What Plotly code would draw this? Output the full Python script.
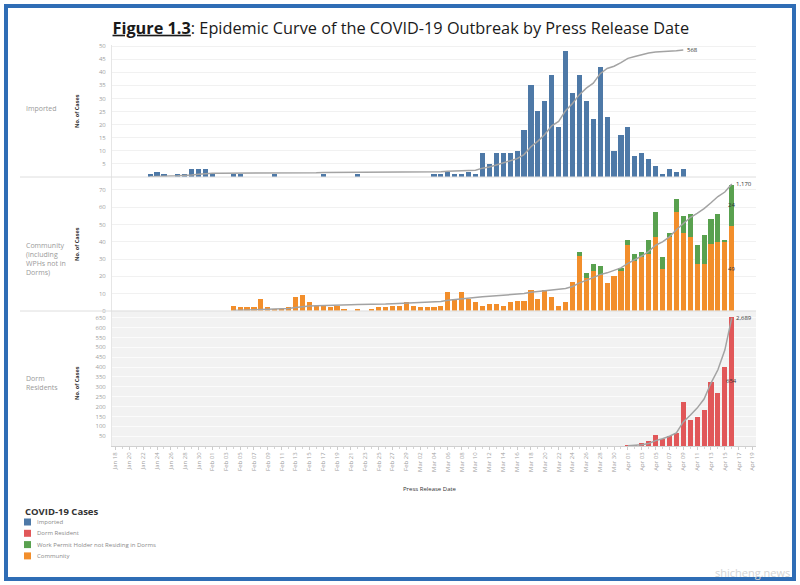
import pandas as pd
import plotly.graph_objects as go
from plotly.subplots import make_subplots

# daily cases by press release date
imported_start = "2020-01-23"
imported = [
    1, 2, 1, 0, 1, 1, 3, 3, 3, 1,
    0, 0, 1, 1, 0, 0, 0, 0, 1, 0,
    0, 0, 0, 0, 0, 1, 0, 0, 0, 0,
    1, 0, 0, 0, 0, 0, 0, 0, 0, 0,
    0, 1, 1, 2, 1, 1, 2, 1, 9, 5,
    9, 9, 9, 10, 18, 35, 25, 29, 39, 19,
    48, 32, 39, 29, 22, 42, 23, 10, 16, 19,
    8, 9, 7, 4, 1, 3, 2, 3,
]

community_start = "2020-02-04"
community = [
    3, 2, 2, 2, 7, 2, 1, 1, 2, 8, 9, 5, 3, 3, 2, 3, 1, 0, 1, 0, 1, 2, 2, 3, 3, 5, 3,
    2, 2, 2, 3, 11, 7, 11, 7, 5, 3, 4, 4, 3, 5, 6, 6, 12, 7, 12, 8, 3, 5, 17,
    32, 19, 23, 21, 16, 20, 23, 38, 29, 31, 33, 43, 24, 43, 57, 45, 43, 27, 27, 39, 40, 40, 49,
]

wph_start = "2020-03-25"
wph = [2, 3, 4, 5, 0, 0, 2, 3, 4, 3, 8, 14, 7, 2, 8, 10, 13, 11, 17, 14, 16, 1, 24]

dorm_start = "2020-04-01"
dorm = [4, 8, 14, 25, 59, 37, 51, 68, 223, 135, 147, 184, 325, 271, 401, 654]

imported_total = "568"
community_total = "1,170"
dorm_total = "2,689"

colors = {
    "imported": "#4e79a7",
    "dorm": "#e15759",
    "wph": "#59a14f",
    "community": "#f28e2b",
}
legend_items = [
    ("Imported", "imported"),
    ("Dorm Resident", "dorm"),
    ("Work Permit Holder not Residing in Dorms", "wph"),
    ("Community", "community"),
]

imp = pd.Series(imported, index=pd.date_range(imported_start, periods=len(imported)))
com = pd.Series(community, index=pd.date_range(community_start, periods=len(community)))
wp = pd.Series(wph, index=pd.date_range(wph_start, periods=len(wph)))
dm = pd.Series(dorm, index=pd.date_range(dorm_start, periods=len(dorm)))
com_all = com.add(wp, fill_value=0)

DAY = 86400000
BAR_W = 0.74 * DAY
LINE = dict(color="#a3a3a3", width=1.5)

fig = make_subplots(
    rows=3, cols=1, shared_xaxes=True, vertical_spacing=0,
    specs=[[{"secondary_y": True}]] * 3,
)

fig.add_trace(go.Bar(x=imp.index, y=imp.values, width=BAR_W,
                     marker=dict(color=colors["imported"], line_width=0)), row=1, col=1)
fig.add_trace(go.Scatter(x=imp.index, y=imp.cumsum().values, mode="lines", line=LINE),
              row=1, col=1, secondary_y=True)

fig.add_trace(go.Bar(x=com.index, y=com.values, width=BAR_W,
                     marker=dict(color=colors["community"], line_width=0)), row=2, col=1)
fig.add_trace(go.Bar(x=wp.index, y=wp.values, width=BAR_W,
                     marker=dict(color=colors["wph"], line_width=0)), row=2, col=1)
fig.add_trace(go.Scatter(x=com_all.index, y=com_all.cumsum().values, mode="lines", line=LINE),
              row=2, col=1, secondary_y=True)

fig.add_trace(go.Bar(x=dm.index, y=dm.values, width=BAR_W,
                     marker=dict(color=colors["dorm"], line_width=0)), row=3, col=1)
fig.add_trace(go.Scatter(x=dm.index, y=dm.cumsum().values, mode="lines", line=LINE),
              row=3, col=1, secondary_y=True)

fig.update_traces(showlegend=False)

# pixel -> paper helpers (plot area is 112..756 x 45..446)
def px(x):
    return (x - 112) / 644


def py(y):
    return (446 - y) / 401


tickfont = dict(size=6, color="#a0a0a0", family="Open Sans")
fig.update_xaxes(
    domain=[0, 1],
    range=["2020-01-17 12:00", "2020-04-19 12:00"],
    showgrid=False, zeroline=False,
)
fig.update_xaxes(
    row=3, col=1,
    tickformat="%b %d", dtick=2 * DAY, tick0="2020-01-18", tickangle=-90,
    tickfont=tickfont, ticks="outside", ticklen=3, tickcolor="#cccccc",
    minor=dict(dtick=DAY, ticks="outside", ticklen=2, tickcolor="#d5d5d5"),
    showline=True, linecolor="#d0d0d0",
)
fig.update_yaxes(secondary_y=False, tickfont=tickfont, gridcolor="#f1f1f1",
                 showline=True, linecolor="#e6e6e6", zeroline=False, ticks="",
                 ticklabelstandoff=4)
fig.update_yaxes(row=1, col=1, secondary_y=False, range=[0, 50.4],
                 tickvals=list(range(5, 51, 5)), domain=[0.671, 1])
fig.update_yaxes(row=2, col=1, secondary_y=False, range=[0, 77.5],
                 tickvals=list(range(0, 71, 10)), domain=[0.337, 0.671])
fig.update_yaxes(row=3, col=1, secondary_y=False, range=[0, 685],
                 tickvals=list(range(50, 651, 50)), domain=[0, 0.337],
                 gridcolor="#fbfbfb")
fig.update_yaxes(secondary_y=True, visible=False, showgrid=False)
fig.update_yaxes(row=1, col=1, secondary_y=True, range=[0, imp.sum() / 0.962])
fig.update_yaxes(row=2, col=1, secondary_y=True, range=[0, com_all.sum() / 0.947])
fig.update_yaxes(row=3, col=1, secondary_y=True, range=[0, dm.sum() / 0.948])

shapes = [
    dict(type="rect", xref="x3 domain", yref="y5 domain", x0=0, x1=1, y0=0, y1=1,
         fillcolor="#f2f2f2", line_width=0, layer="below"),
    dict(type="line", xref="paper", yref="paper", x0=px(20), x1=1, y0=py(177), y1=py(177),
         line=dict(color="#dedede", width=1)),
    dict(type="line", xref="paper", yref="paper", x0=px(20), x1=1, y0=py(311), y1=py(311),
         line=dict(color="#dedede", width=1)),
    dict(type="rect", xref="paper", yref="paper", x0=px(6), x1=px(794), y0=py(579), y1=py(6),
         line=dict(color="#2f6db5", width=4)),
]

small = dict(size=6, color="#333333", family="Open Sans")
side = dict(size=7, color="#9a9a9a", family="Open Sans")
annotations = [
    dict(x=imp.index[-1], y=imp.sum(), xref="x", yref="y2", text=imported_total,
         xanchor="left", xshift=2, font=small),
    dict(x=com_all.index[-1], y=com_all.sum(), xref="x2", yref="y4", text=community_total,
         xanchor="left", xshift=2, font=small),
    dict(x=dm.index[-1], y=dm.sum(), xref="x3", yref="y6", text=dorm_total,
         xanchor="left", xshift=2, font=small),
    dict(x=com.index[-1], y=community[-1] / 2, xref="x2", yref="y3", text=str(community[-1]),
         font=small),
    dict(x=wp.index[-1], y=community[-1] + wph[-1] / 2, xref="x2", yref="y3", text=str(wph[-1]),
         font=small),
    dict(x=dm.index[-1], y=dorm[-1] / 2, xref="x3", yref="y5", text=str(dorm[-1]),
         font=small),
    dict(x=px(24), y=py(108), text="Imported", xanchor="left", align="left", font=side),
    dict(x=px(24), y=py(259), text="Community<br>(including<br>WPHs not in<br>Dorms)",
         xanchor="left", align="left", font=side),
    dict(x=px(24), y=py(383), text="Dorm<br>Residents", xanchor="left", align="left", font=side),
    dict(x=px(430), y=py(489), text="Press Release Date", font=small),
    dict(x=px(23), y=py(511), text="<b>COVID-19 Cases</b>", xanchor="left",
         font=dict(size=9.5, color="#333333", family="Open Sans")),
    dict(x=px(792), y=py(572), text="shicheng.news", xanchor="right",
         font=dict(size=11, color="#d4d4d4", family="Open Sans")),
]
for yy in (111, 244, 383):
    annotations.append(dict(x=px(77), y=py(yy), text="<b>No. of Cases</b>", textangle=-90,
                            font=dict(size=5.5, color="#333333", family="Open Sans")))

for i, (label, key) in enumerate(legend_items):
    yc = 522 + i * 11.3
    shapes.append(dict(type="rect", xref="paper", yref="paper",
                       x0=px(24), x1=px(31), y0=py(yc + 3.5), y1=py(yc - 3.5),
                       fillcolor=colors[key], line_width=0))
    annotations.append(dict(x=px(35), y=py(yc), text=label, xanchor="left",
                            font=dict(size=6, color="#8a8a8a", family="Open Sans")))

for a in annotations:
    a.setdefault("xref", "paper")
    a.setdefault("yref", "paper")
    a.setdefault("xanchor", "center")
    a["yanchor"] = "middle"
    a["showarrow"] = False

fig.update_layout(
    width=800, height=585,
    margin=dict(l=112, r=44, t=45, b=139),
    barmode="stack", bargap=0,
    paper_bgcolor="white", plot_bgcolor="white",
    title=dict(
        text="<b><u>Figure 1.3</u></b>: Epidemic Curve of the COVID-19 Outbreak by Press Release Date",
        x=0.501, xanchor="center", y=1 - 28 / 585, yanchor="middle",
        font=dict(size=16.3, color="#1a1a1a", family="Open Sans"),
    ),
    shapes=shapes,
    annotations=annotations,
    showlegend=False,
)

# page body has a default 8px margin; drop it so the figure sits at 0,0
fig.write_html(
    "out.html",
    config={"displayModeBar": False},
    post_script="document.body.style.margin = '0';",
)
